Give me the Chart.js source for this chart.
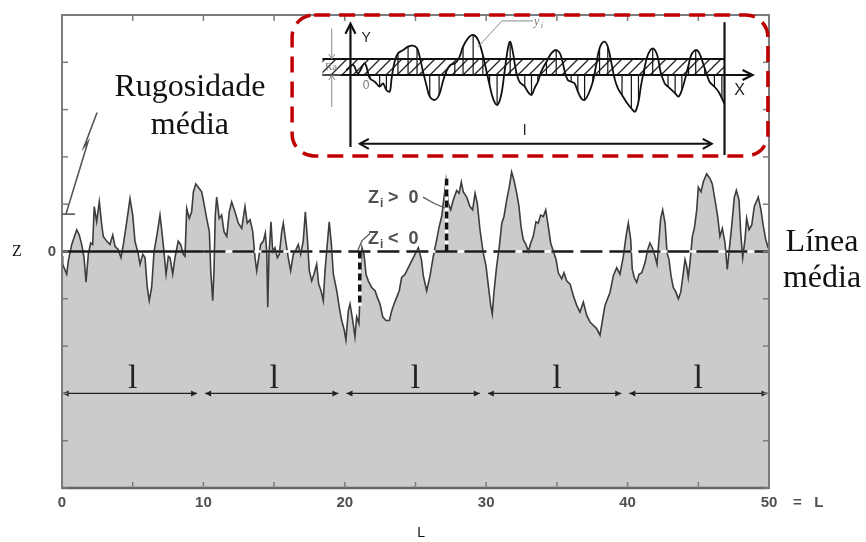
<!DOCTYPE html>
<html>
<head>
<meta charset="utf-8">
<script src="https://cdn.jsdelivr.net/npm/chart.js@4"></script>
<style>
  html, body { margin: 0; padding: 0; background: #fff; }
  #wrap { position: relative; width: 866px; height: 542px; }
  #mainChart { position: absolute; left: 0; top: 0; }
  #insetChart { position: absolute; left: 285px; top: 11px; }
</style>
</head>
<body>
<div id="wrap">
  <canvas id="mainChart" width="866" height="542"></canvas>
  <canvas id="insetChart" width="490" height="152"></canvas>
</div>
<script>
// profile: [L, Z]
const profilePoints = [
  [0, -0.10], [0.05, -0.27], [0.33, -0.48], [0.45, -0.20], [0.69, 0.15], [1.04, 0.46], [1.22, 0.35],
  [1.39, 0.15], [1.56, -0.13], [1.70, -0.65], [1.86, -0.06], [2.03, 0.18], [2.17, 0.15], [2.28, 0.95],
  [2.45, 0.63], [2.64, 1.05], [2.81, 0.56], [2.92, 0.32], [3.16, 0.22], [3.39, 0.15], [3.59, 0.35],
  [3.75, 0.11], [3.98, 0.04], [4.17, -0.13], [4.34, 0.15], [4.58, 0.63], [4.81, 1.12], [5.00, 0.77],
  [5.16, 0.22], [5.40, -0.06], [5.52, -0.27], [5.71, -0.06], [5.87, -0.13], [6.03, -0.76], [6.17, -1.04],
  [6.34, -0.76], [6.51, 0.00], [6.70, 0.32], [6.93, 0.77], [7.05, 0.46], [7.16, 0.15], [7.36, -0.48],
  [7.52, -0.10], [7.64, -0.13], [7.83, -0.48], [7.99, -0.13], [8.22, 0.22], [8.39, 0.15], [8.58, -0.06],
  [8.70, -0.10], [8.82, 0.91], [9.00, 0.70], [9.17, 0.84], [9.29, 1.26], [9.46, 1.43], [9.64, 1.36],
  [9.88, 1.26], [10.06, 0.98], [10.23, 0.70], [10.42, 0.42], [10.52, -0.41], [10.66, -1.04], [10.75, -0.41],
  [10.84, 0.77], [10.94, 1.15], [11.12, 0.70], [11.29, 0.77], [11.46, 0.42], [11.65, 0.32], [11.83, 0.84],
  [12.00, 1.05], [12.23, 0.84], [12.47, 0.60], [12.71, 0.49], [12.94, 0.95], [13.10, 0.60], [13.30, 0.67],
  [13.49, 0.42], [13.65, -0.13], [13.77, -0.41], [13.88, -0.20], [14.05, 0.15], [14.24, 0.22], [14.38, 0.39],
  [14.48, 0.00], [14.55, -1.18], [14.64, -0.06], [14.78, 0.63], [14.90, 0.00], [15.06, 0.08], [15.23, -0.13],
  [15.37, -0.06], [15.54, 0.42], [15.65, 0.60], [15.82, 0.22], [16.00, -0.13], [16.17, -0.41], [16.36, -0.06],
  [16.55, 0.04], [16.71, 0.15], [16.88, -0.06], [17.06, 0.22], [17.21, 0.84], [17.35, 0.29], [17.49, -0.41],
  [17.66, -0.62], [17.82, -0.48], [18.01, -0.27], [18.15, -0.69], [18.32, -0.83], [18.48, -1.04], [18.60, -0.41],
  [18.76, 0.15], [18.90, 0.63], [19.05, 0.15], [19.19, -0.48], [19.43, -0.83], [19.61, -1.18], [19.78, -1.46],
  [19.96, -1.66], [20.08, -1.87], [20.25, -1.25], [20.37, -1.11], [20.56, -1.46], [20.72, -1.80], [20.84, -1.38],
  [21.00, -1.52], [21.12, -0.55], [21.22, 0.08], [21.36, -0.06], [21.50, -0.48], [21.66, -0.62], [21.90, -0.76],
  [22.14, -0.83], [22.30, -0.97], [22.49, -1.11], [22.68, -1.38], [22.91, -1.46], [23.15, -1.46], [23.32, -1.25],
  [23.48, -1.11], [23.67, -0.97], [23.85, -0.83], [24.02, -0.55], [24.26, -0.48], [24.49, -0.34], [24.73, -0.20],
  [24.96, -0.06], [25.20, 0.08], [25.42, -0.17], [25.55, -0.51], [25.79, -0.83], [26.03, -0.51], [26.26, -0.10],
  [26.50, 0.25], [26.68, 0.53], [26.85, 0.74], [27.02, 1.15], [27.16, 1.50], [27.32, 1.02], [27.49, 0.88],
  [27.67, 1.09], [27.91, 1.29], [28.08, 1.23], [28.24, 1.47], [28.38, 1.26], [28.62, 1.15], [28.85, 0.95],
  [29.04, 0.88], [29.21, 1.23], [29.37, 1.02], [29.56, 0.46], [29.79, -0.03], [29.99, -0.31], [30.15, -0.72],
  [30.32, -1.14], [30.43, -1.32], [30.55, -0.86], [30.74, -0.31], [30.93, 0.11], [31.10, 0.60], [31.26, 0.74],
  [31.45, 1.09], [31.63, 1.36], [31.80, 1.68], [31.97, 1.50], [32.16, 1.23], [32.32, 0.95], [32.46, 0.53],
  [32.62, 0.25], [32.81, 0.15], [32.98, 0.00], [33.15, 0.18], [33.33, 0.32], [33.52, 0.63], [33.68, 0.60],
  [33.85, 0.77], [34.04, 0.74], [34.21, 0.88], [34.39, 0.53], [34.56, 0.18], [34.75, 0.00], [34.94, -0.17],
  [35.10, -0.45], [35.34, -0.58], [35.50, -0.45], [35.69, -0.62], [35.93, -0.69], [36.16, -0.93], [36.40, -1.14],
  [36.63, -1.28], [36.87, -1.07], [37.11, -1.35], [37.34, -1.49], [37.57, -1.56], [37.81, -1.63], [38.05, -1.77],
  [38.24, -1.42], [38.40, -1.14], [38.76, -0.86], [38.99, -0.51], [39.23, -0.34], [39.46, -0.48], [39.70, -0.10],
  [39.89, 0.32], [40.05, 0.60], [40.22, 0.25], [40.33, -0.38], [40.47, -0.55], [40.64, -0.65], [40.81, -0.48],
  [41.00, -0.45], [41.23, -0.24], [41.42, 0.04], [41.58, 0.18], [41.75, 0.08], [41.94, -0.10], [42.08, -0.27],
  [42.22, 0.25], [42.34, 0.70], [42.48, 0.88], [42.65, 0.60], [42.79, -0.03], [42.93, -0.17], [43.07, -0.51],
  [43.23, -0.76], [43.42, -0.86], [43.59, -1.00], [43.76, -0.86], [43.94, -0.45], [44.06, -0.17], [44.18, -0.31],
  [44.29, -0.55], [44.41, -0.24], [44.58, 0.32], [44.72, 0.49], [44.89, 0.88], [45.00, 1.36], [45.19, 1.26],
  [45.35, 1.47], [45.59, 1.64], [45.83, 1.54], [45.99, 1.43], [46.18, 1.09], [46.37, 0.74], [46.53, 0.32],
  [46.70, 0.49], [46.89, 0.18], [47.05, -0.38], [47.19, 0.04], [47.36, 0.53], [47.55, 1.15], [47.69, 1.29],
  [47.88, 1.09], [48.00, 0.39], [48.14, -0.13], [48.30, 0.25], [48.42, 0.70], [48.59, 0.46], [48.78, 0.56],
  [48.96, 0.95], [49.24, 1.15], [49.43, 0.88], [49.60, 0.53], [49.77, 0.25], [49.91, 0.11], [50.00, 0.18]
];
const meanSolid = [[0, 0], [10, 0]];
const meanDashed = [[10, 0], [50, 0]];
const zPositiveMark = [[27.2, 0], [27.2, 1.54]];
const zNegativeMark = [[21.06, 0], [21.06, -1.15]];
const samplingBounds = [0, 10, 20, 30, 40, 50];
const lengthLabels = ['0', '10', '20', '30', '40', '50'];

// inset sketch (x in sampling-length units 0..10, y in Ra units)
const insetWave = [
  [-0.11, 0.31], [0.07, 0.63], [0.20, 0.10], [0.38, 0.73], [0.52, -0.21], [0.65, -0.42], [0.78, -0.73],
  [0.87, -0.52], [0.96, -0.94], [1.05, -1.04], [1.10, -0.21], [1.18, 0.83], [1.27, 1.35], [1.41, 1.56],
  [1.54, 1.77], [1.67, 1.83], [1.78, 1.67], [1.85, 1.15], [1.94, 0.21], [2.03, -0.63], [2.12, -1.35],
  [2.25, -1.56], [2.37, -1.25], [2.47, -0.42], [2.56, 0.21], [2.67, 0.63], [2.79, 0.73], [2.90, 1.04],
  [3.01, 1.77], [3.14, 2.29], [3.28, 2.50], [3.41, 2.19], [3.54, 1.25], [3.63, 0.31], [3.72, -0.63],
  [3.81, -1.46], [3.92, -1.88], [4.03, -1.25], [4.12, 0.21], [4.21, 1.67], [4.27, 2.08], [4.34, 1.46],
  [4.43, 0.21], [4.52, -0.42], [4.66, -0.73], [4.74, -1.04], [4.84, -1.25], [4.92, -0.83], [5.01, -0.42],
  [5.10, 0.21], [5.24, 0.83], [5.37, 1.35], [5.50, 1.56], [5.62, 1.25], [5.73, 0.21], [5.81, -0.31],
  [5.90, -0.42], [5.99, -0.52], [6.08, -1.04], [6.17, -1.46], [6.26, -1.56], [6.35, -1.25], [6.48, -0.42],
  [6.57, 0.63], [6.66, 1.67], [6.78, 2.08], [6.88, 1.77], [6.97, 0.83], [7.06, -0.21], [7.15, -0.83],
  [7.26, -1.25], [7.37, -1.67], [7.51, -2.08], [7.61, -2.29], [7.70, -1.67], [7.77, -0.63], [7.86, 0.42],
  [7.95, 1.25], [8.08, 1.67], [8.20, 1.25], [8.29, 0.21], [8.40, -0.52], [8.49, -0.73], [8.59, -0.94],
  [8.68, -1.15], [8.77, -1.35], [8.86, -0.94], [8.95, -0.21], [9.04, 0.63], [9.11, 1.25], [9.23, 1.56],
  [9.33, 1.35], [9.47, 0.42], [9.60, -0.42], [9.73, -0.73], [9.84, -1.04], [9.93, -1.46], [9.99, -1.77]
];
const insetRa = 1;
const insetLength = 10;

const pts = arr => arr.map(([x, y]) => ({ x, y }));

function line(ctx, coords) {
  ctx.beginPath();
  coords.forEach(([px, py], i) => i ? ctx.lineTo(px, py) : ctx.moveTo(px, py));
  ctx.stroke();
}

function arrowHead(ctx, tipX, tipY, dx, dy, len, half, filled) {
  // dx,dy = unit direction of the arrow
  const bx = tipX - dx * len, by = tipY - dy * len;
  const nx = -dy * half, ny = dx * half;
  ctx.beginPath();
  ctx.moveTo(bx + nx, by + ny);
  ctx.lineTo(tipX, tipY);
  ctx.lineTo(bx - nx, by - ny);
  if (filled) { ctx.closePath(); ctx.fill(); } else ctx.stroke();
}

const profileDecor = {
  id: 'profileDecor',
  afterDatasetsDraw(chart) {
    const { ctx, chartArea: a, scales: { x, y } } = chart;
    const X = v => x.getPixelForValue(v), Y = v => y.getPixelForValue(v);
    ctx.save();

    // sampling lengths "l"
    ctx.strokeStyle = '#222'; ctx.fillStyle = '#222'; ctx.lineWidth = 1.4;
    for (let k = 0; k < samplingBounds.length - 1; k++) {
      const x0 = X(samplingBounds[k] + (k ? 0.12 : 0.05));
      const x1 = X(k === samplingBounds.length - 2 ? samplingBounds[k + 1] - 0.1 : samplingBounds[k + 1] - 0.45);
      const yy = Y(-3);
      line(ctx, [[x0, yy], [x1, yy]]);
      arrowHead(ctx, x0, yy, -1, 0, 6, 3, true);
      arrowHead(ctx, x1, yy, 1, 0, 6, 3, true);
      ctx.font = '34px "Liberation Serif"';
      ctx.textAlign = 'center'; ctx.textBaseline = 'alphabetic';
      ctx.fillText('l', X((samplingBounds[k] + samplingBounds[k + 1]) / 2), yy - 5);
    }

    // frame + inward ticks
    ctx.strokeStyle = '#7c7c7c'; ctx.lineWidth = 2;
    ctx.strokeRect(a.left, a.top, a.right - a.left, a.bottom - a.top);
    ctx.lineWidth = 2.5; ctx.strokeStyle = '#666';
    line(ctx, [[a.left, a.bottom], [a.right, a.bottom]]);
    ctx.lineWidth = 1.5; ctx.strokeStyle = '#7c7c7c';
    x.ticks.forEach(t => {
      const px = X(t.value);
      line(ctx, [[px, a.bottom], [px, a.bottom - 6]]);
      line(ctx, [[px, a.top], [px, a.top + 6]]);
    });
    y.ticks.forEach(t => {
      const py = Y(t.value);
      line(ctx, [[a.left, py], [a.left + 6, py]]);
      line(ctx, [[a.right, py], [a.right - 6, py]]);
    });

    // Ra bracket on the left
    ctx.strokeStyle = '#555'; ctx.lineWidth = 1.6;
    line(ctx, [[X(0), Y(0.79)], [X(0.92), Y(0.79)]]);
    line(ctx, [[X(0.28), Y(0.79)], [X(1.84), Y(2.32)], [X(1.56), Y(2.21)], [X(2.48), Y(2.94)]]);

    // Zi labels
    const zLabel = (lx, lz, rest) => {
      ctx.fillStyle = '#505050'; ctx.textAlign = 'left'; ctx.textBaseline = 'alphabetic';
      const px = X(lx), py = Y(lz);
      ctx.font = 'bold 18px "Liberation Sans"';
      ctx.fillText('Z', px, py);
      const w = ctx.measureText('Z').width;
      ctx.font = 'bold 12px "Liberation Sans"';
      ctx.fillText('i', px + w + 1, py + 4);
      ctx.font = 'bold 18px "Liberation Sans"';
      ctx.fillText(rest, px + w + 9, py);
    };
    zLabel(21.64, 1.02, '>  0');
    zLabel(21.64, 0.15, '<  0');
    ctx.strokeStyle = '#555'; ctx.lineWidth = 1.3;
    line(ctx, [[X(25.53), Y(1.15)], [X(26.3), Y(1.02)], [X(27.09), Y(0.92)]]);
    line(ctx, [[X(21.78), Y(0.38)], [X(21.22), Y(0.23)], [X(20.93), Y(0.03)]]);

    // text annotations
    ctx.fillStyle = '#111'; ctx.textAlign = 'center'; ctx.textBaseline = 'alphabetic';
    ctx.font = '32px "Liberation Serif"';
    ctx.fillText('Rugosidade', X(9.05), Y(3.28));
    ctx.fillText('média', X(9.05), Y(2.48));
    ctx.fillText('Línea', X(53.75), Y(0.02));
    ctx.fillText('média', X(53.75), Y(-0.75));

    ctx.font = '16px "Liberation Serif"';
    ctx.textBaseline = 'middle';
    ctx.fillText('Z', 17, Y(0));
    ctx.font = '14px "Liberation Sans"';
    ctx.fillText('L', X(25.4), 533);
    ctx.font = 'bold 15px "Liberation Sans"'; ctx.fillStyle = '#505050';
    ctx.textAlign = 'left';
    ctx.fillText('=   L', X(50) + 24, a.bottom + 15);
    ctx.restore();
  }
};

new Chart(document.getElementById('mainChart'), {
  type: 'line',
  data: {
    datasets: [
      { data: pts(meanSolid), borderColor: '#1a1a1a', borderWidth: 2.5, order: 1 },
      { data: pts(meanDashed), borderColor: '#1a1a1a', borderWidth: 2.5, borderDash: [22, 7], order: 1 },
      { data: pts(meanDashed), borderColor: '#ffffff', borderWidth: 2.5, order: 4 },
      { data: pts(zPositiveMark), borderColor: '#111', borderWidth: 3.5, borderDash: [7, 4], order: 1 },
      { data: pts(zPositiveMark), borderColor: '#ffffff', borderWidth: 3.5, order: 4 },
      { data: pts(zNegativeMark), borderColor: '#111', borderWidth: 3.5, borderDash: [7, 4], order: 1 },
      { data: pts(zNegativeMark), borderColor: '#ffffff', borderWidth: 3.5, order: 4 },
      {
        data: pts(profilePoints), borderColor: '#3d3d3d', borderWidth: 1.6,
        backgroundColor: '#cbcbcb', fill: 'start', tension: 0, order: 10
      }
    ]
  },
  options: {
    responsive: false,
    animation: false,
    layout: { padding: { left: 0, top: 8, right: 97, bottom: 0 } },
    elements: { point: { radius: 0 }, line: { borderCapStyle: 'butt' } },
    plugins: { legend: { display: false }, tooltip: { enabled: false } },
    scales: {
      x: {
        type: 'linear', min: 0, max: 50,
        afterFit: s => { s.height = 54; },
        grid: { display: false, drawTicks: false }, border: { display: false },
        ticks: {
          stepSize: 5, autoSkip: false, maxRotation: 0, padding: 6, color: '#505050',
          font: { family: 'Liberation Sans', size: 15, weight: 'bold' },
          callback: v => (v % 10 === 0 ? lengthLabels[v / 10] : '')
        }
      },
      y: {
        min: -5, max: 5,
        afterFit: s => { s.width = 62; },
        grid: { display: false, drawTicks: false }, border: { display: false },
        ticks: {
          stepSize: 1, autoSkip: false, padding: 6, color: '#505050',
          font: { family: 'Liberation Sans', size: 15, weight: 'bold' },
          callback: v => (v === 0 ? '0' : '')
        }
      }
    }
  },
  plugins: [profileDecor]
});

// inset: definition of Ra
const insetDecor = {
  id: 'insetDecor',
  beforeDatasetsDraw(chart) {
    const { ctx, scales: { x, y } } = chart;
    const X = v => x.getPixelForValue(v), Y = v => y.getPixelForValue(v);
    ctx.save();
    // hatched Ra band
    const tile = document.createElement('canvas');
    tile.width = 11; tile.height = 11;
    const tc = tile.getContext('2d');
    tc.strokeStyle = '#222'; tc.lineWidth = 1.3;
    tc.beginPath();
    tc.moveTo(0, 11); tc.lineTo(11, 0);
    tc.moveTo(-1, 1); tc.lineTo(1, -1);
    tc.moveTo(10, 12); tc.lineTo(12, 10);
    tc.stroke();
    ctx.fillStyle = ctx.createPattern(tile, 'repeat');
    ctx.fillRect(X(-0.75), Y(insetRa), X(insetLength) - X(-0.75), Y(0) - Y(insetRa));
    // ordinates y_i
    ctx.strokeStyle = '#111'; ctx.lineWidth = 1.2;
    insetWave.forEach(([wx, wy], i) => {
      if (i % 2 === 0 && wx > 0 && wx < insetLength) line(ctx, [[X(wx), Y(0)], [X(wx), Y(wy)]]);
    });
    ctx.restore();
  },
  afterDatasetsDraw(chart) {
    const { ctx, scales: { x, y } } = chart;
    const X = v => x.getPixelForValue(v), Y = v => y.getPixelForValue(v);
    ctx.save();
    ctx.strokeStyle = '#111'; ctx.fillStyle = '#111'; ctx.lineWidth = 2.2;
    // band edges and axes
    line(ctx, [[X(-0.75), Y(insetRa)], [X(insetLength), Y(insetRa)]]);
    line(ctx, [[X(-0.75), Y(0)], [X(10.75), Y(0)]]);
    arrowHead(ctx, X(10.75), Y(0), 1, 0, 10, 5, false);
    line(ctx, [[X(0), Y(-4.5)], [X(0), Y(3.2)]]);
    arrowHead(ctx, X(0), Y(3.2), 0, -1, 10, 5, false);
    line(ctx, [[X(insetLength), Y(3.3)], [X(insetLength), Y(-5.0)]]);
    // sampling length
    ctx.lineWidth = 2;
    line(ctx, [[X(0.25), Y(-4.3)], [X(9.66), Y(-4.3)]]);
    arrowHead(ctx, X(0.25), Y(-4.3), -1, 0, 9, 5, false);
    arrowHead(ctx, X(9.66), Y(-4.3), 1, 0, 9, 5, false);
    // Ra dimension
    ctx.strokeStyle = '#888'; ctx.fillStyle = '#888'; ctx.lineWidth = 1;
    line(ctx, [[X(-0.5), Y(2.9)], [X(-0.5), Y(insetRa)]]);
    arrowHead(ctx, X(-0.5), Y(insetRa), 0, 1, 5, 3, false);
    line(ctx, [[X(-0.5), Y(-2.0)], [X(-0.5), Y(0)]]);
    arrowHead(ctx, X(-0.5), Y(0), 0, -1, 5, 3, false);
    line(ctx, [[X(-0.75), Y(0)], [X(-0.25), Y(0)]]);
    // y_i leader
    line(ctx, [[X(3.41), Y(1.75)], [X(4.05), Y(3.38)], [X(4.88), Y(3.38)]]);

    // labels
    ctx.textAlign = 'center'; ctx.textBaseline = 'middle';
    ctx.fillStyle = '#777';
    ctx.font = '11px "Liberation Serif"';
    ctx.fillText('Ra', X(-0.52), Y(0.5));
    ctx.font = '12px "Liberation Sans"';
    ctx.fillText('0', X(0.42), Y(-0.65));
    ctx.font = 'italic 12px "Liberation Serif"';
    ctx.fillText('y', X(4.98), Y(3.31));
    ctx.font = 'italic 8px "Liberation Serif"';
    ctx.fillText('i', X(5.12), Y(3.1));
    ctx.fillStyle = '#222';
    ctx.font = '14px "Liberation Sans"';
    ctx.fillText('Y', X(0.42), Y(2.3));
    ctx.font = '16px "Liberation Sans"';
    ctx.fillText('X', X(10.4), Y(-0.95));
    ctx.font = '15px "Liberation Sans"';
    ctx.fillText('l', X(4.66), Y(-3.5));

    // red dashed frame
    ctx.strokeStyle = '#c00000'; ctx.lineWidth = 3.5; ctx.setLineDash([16, 9]);
    ctx.beginPath();
    ctx.roundRect(X(-1.56), Y(3.75), X(11.16) - X(-1.56), Y(-5.06) - Y(3.75), 22);
    ctx.stroke();
    ctx.restore();
  }
};

new Chart(document.getElementById('insetChart'), {
  type: 'line',
  data: {
    datasets: [{
      data: pts(insetWave), borderColor: '#111', borderWidth: 1.8,
      pointRadius: 0, tension: 0.35, fill: false
    }]
  },
  options: {
    responsive: false,
    animation: false,
    layout: { padding: 0 },
    plugins: { legend: { display: false }, tooltip: { enabled: false } },
    scales: {
      x: { type: 'linear', min: -1.75, max: 11.35, display: false },
      y: { min: -5.5, max: 4.0, display: false }
    }
  },
  plugins: [insetDecor]
});
</script>
</body>
</html>
